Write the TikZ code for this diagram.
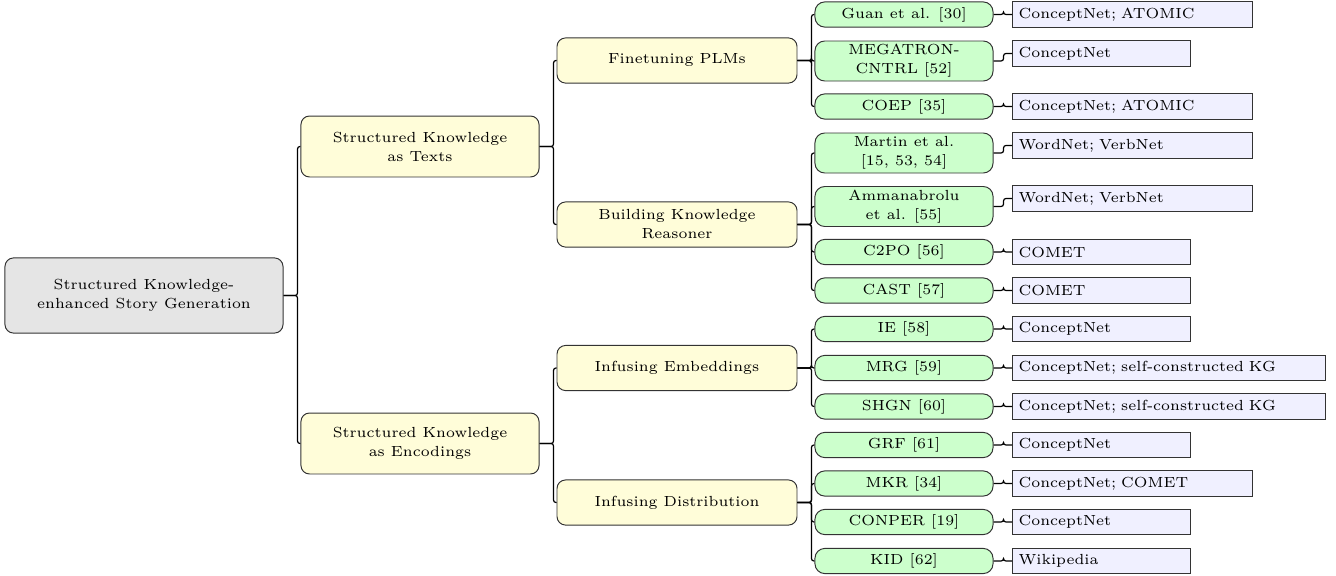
\documentclass[tikz,border=0pt]{standalone}
\newcommand\treefont{\fontsize{6}{7.8}\selectfont}

\begin{document}
\begin{tikzpicture}[
    x=0.41pt, y=-0.41pt,
    box/.style={draw=black!80, line width=0.4pt, font=\treefont, align=center, inner sep=1pt},
    rootbox/.style={box, fill=gray!20, rounded corners=3.5pt, minimum width=114pt, minimum height=30.8pt},
    topicbox/.style={box, fill=yellow!15, rounded corners=3.5pt, minimum width=97.6pt, minimum height=25pt},
    methodbox/.style={box, fill=yellow!15, rounded corners=3.5pt, minimum width=98.4pt, minimum height=18.5pt},
    workbox/.style={box, fill=green!20, rounded corners=4pt, minimum width=73pt},
    kbbox/.style={box, fill=blue!6, anchor=west, align=left, inner xsep=2.5pt, minimum height=10.3pt},
    link/.style={draw=black, line width=0.5pt, rounded corners=1pt}
  ]
    \useasboundingbox (0,0) rectangle (1336,576);

    % Root and the two ways of using structured knowledge
    \node[rootbox] (root) at (144,295.5) {Structured Knowledge-\\enhanced Story Generation};
    \node[topicbox] (texts) at (420,146.5) {Structured Knowledge\\as Texts};
    \node[topicbox] (enc) at (420,443.5) {Structured Knowledge\\as Encodings};
    \foreach \t in {texts, enc} {
      \draw[link] (root.east) -- ++(14,0) |- (\t.west);
    }

    % Methods under each topic
    \foreach \name/\parent/\y/\txt in {
      ft/texts/60.5/{Finetuning PLMs},
      bk/texts/224.5/{Building Knowledge\\Reasoner},
      ie/enc/368/{Infusing Embeddings},
      id/enc/502.5/{Infusing Distribution}} {
      \node[methodbox] (\name) at (677,\y) {\txt};
      \draw[link] (\parent.east) -- ++(14,0) |- (\name.west);
    }

    % Works
    \foreach \name/\parent/\y/\h/\txt in {
      guan/ft/14.5/10.3pt/{Guan et al. [30]},
      mega/ft/61/16.4pt/{MEGATRON-\\CNTRL [52]},
      coep/ft/106.5/10.3pt/{COEP [35]},
      martin/bk/153/16.4pt/{Martin et al.\\{[15, 53, 54]}},
      amman/bk/206.5/16.4pt/{Ammanabrolu\\et al. [55]},
      ctpo/bk/252/10.3pt/{C2PO [56]},
      cast/bk/290.5/10.3pt/{CAST [57]},
      iework/ie/329/10.3pt/{IE [58]},
      mrg/ie/368/10.3pt/{MRG [59]},
      shgn/ie/406.5/10.3pt/{SHGN [60]},
      grf/id/445/10.3pt/{GRF [61]},
      mkr/id/483.5/10.3pt/{MKR [34]},
      conper/id/522/10.3pt/{CONPER [19]},
      kid/id/561/10.3pt/{KID [62]}} {
      \node[workbox, minimum height=\h] (\name) at (904,\y) {\txt};
      \draw[link] (\parent.east) -- ++(14,0) |- (\name.west);
    }

    % Knowledge source of each work
    \foreach \name/\y/\tw/\kb in {
      guan/14.5/93.4pt/{ConceptNet; ATOMIC},
      mega/53.5/68pt/{ConceptNet},
      coep/106.5/93.4pt/{ConceptNet; ATOMIC},
      martin/145.5/93.4pt/{WordNet; VerbNet},
      amman/198.5/93.4pt/{WordNet; VerbNet},
      ctpo/252/68pt/{COMET},
      cast/290.5/68pt/{COMET},
      iework/329/68pt/{ConceptNet},
      mrg/368/123.3pt/{ConceptNet; self-constructed KG},
      shgn/406.5/123.3pt/{ConceptNet; self-constructed KG},
      grf/445/68pt/{ConceptNet},
      mkr/483.5/93.4pt/{ConceptNet; COMET},
      conper/522/68pt/{ConceptNet},
      kid/561/68pt/{Wikipedia}} {
      \node[kbbox, text width=\tw] (\name kb) at (1012,\y) {\kb};
      \draw[link] (\name.east) -- ++(10,0) |- (\name kb.west);
    }

  \end{tikzpicture}
\end{document}
